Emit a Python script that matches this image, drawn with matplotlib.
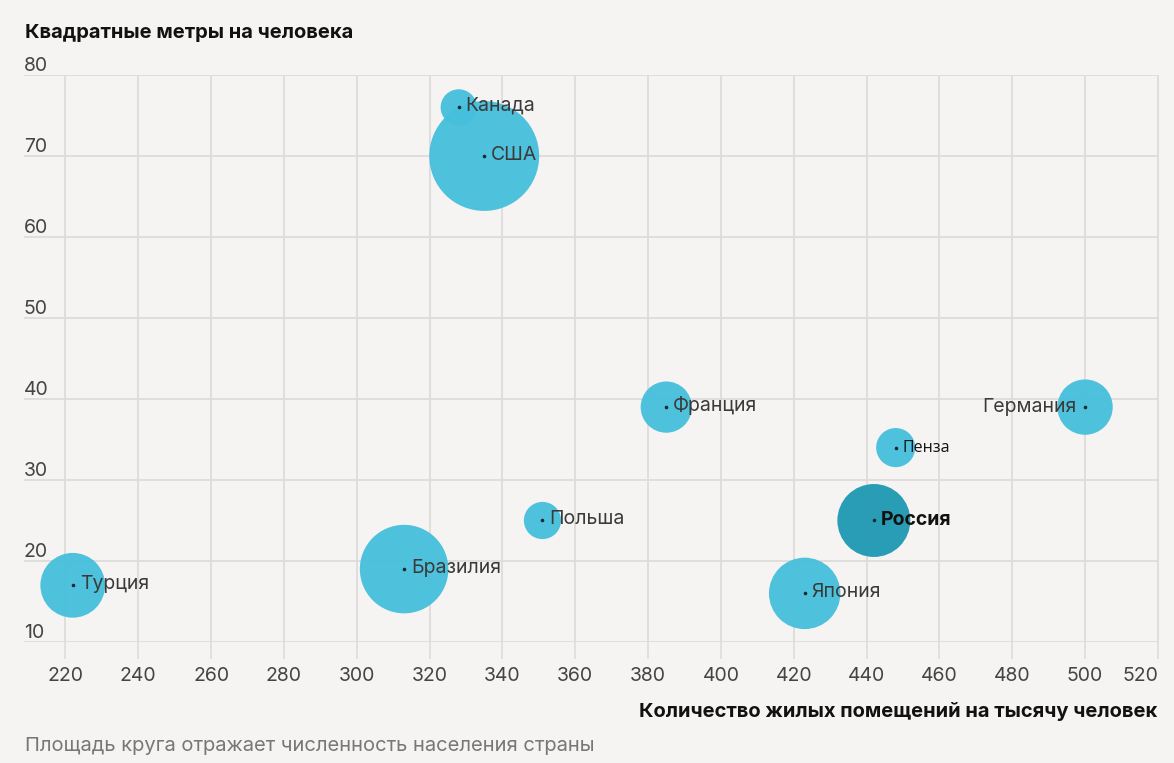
import matplotlib
matplotlib.use("Agg")
import matplotlib.pyplot as plt
import numpy as np
from matplotlib.transforms import blended_transform_factory

plt.rcParams["font.family"] = ["Inter", "DejaVu Sans"]

# values
countries = ["Турция", "Бразилия", "Канада", "США", "Польша", "Франция",
             "Япония", "Россия", "Пенза", "Германия"]
rooms_per_1000 = [222, 313, 328, 335, 351, 385, 423, 442, 448, 500]
sqm_per_person = [17, 19, 76, 70, 25, 39, 16, 25, 34, 39]
# circle area (population, mln, as drawn)
population = [115, 215, 36, 331, 38, 72, 140, 146, 42, 84]

x_ticks = list(range(220, 521, 20))
y_ticks = list(range(10, 81, 10))

BG = "#f5f4f2"
GRID = "#dddcdb"
LIGHT = "#45bfdb"
DARK = "#1f98b3"

fig = plt.figure(figsize=(11.74, 7.63), dpi=100, facecolor=BG)
ax = fig.add_axes([0.0204, 0.1586, 0.9668, 0.7431], facecolor=BG)

sizes = np.array(population) * 18.9
colors = [DARK if c == "Россия" else LIGHT for c in countries]
ax.scatter(rooms_per_1000, sqm_per_person, s=sizes, c=colors, alpha=0.95,
           linewidths=0, zorder=3)
ax.scatter(rooms_per_1000, sqm_per_person, s=2.5, c="#1a2a30", zorder=4)

for name, x, y in zip(countries, rooms_per_1000, sqm_per_person):
    if name == "Германия":
        ax.annotate(name, (x, y), xytext=(-6, 0), textcoords="offset points",
                    ha="right", va="center", fontsize=14, color="#3a3a3a", zorder=5)
    elif name == "Россия":
        ax.annotate(name, (x, y), xytext=(5, 0), textcoords="offset points",
                    ha="left", va="center", fontsize=14, fontweight="bold",
                    color="#111111", zorder=5)
    elif name == "Пенза":
        ax.annotate(name, (x, y), xytext=(5, 0), textcoords="offset points",
                    ha="left", va="center", fontsize=11.5, color="#111111",
                    family=["Open Sans", "DejaVu Sans"], zorder=5)
    else:
        ax.annotate(name, (x, y), xytext=(5, 1), textcoords="offset points",
                    ha="left", va="center", fontsize=14, color="#3a3a3a", zorder=5)

ax.set_xlim(208.6, 520.3)
ax.set_ylim(10, 80)
ax.set_xticks(x_ticks)
ax.set_xticklabels([str(t) for t in x_ticks], fontsize=14, color="#444444")
ax.get_xticklabels()[-1].set_horizontalalignment("right")
ax.set_yticks(y_ticks)
ax.set_yticklabels([])
ax.tick_params(axis="x", length=12, width=1.2, color=GRID, pad=6)
ax.tick_params(axis="y", length=0)
ax.grid(True, color=GRID, linewidth=1.3, zorder=0)
ax.set_axisbelow(True)
for sp in ax.spines.values():
    sp.set_visible(False)

# y tick labels sit above their gridlines, at the left edge
trans = blended_transform_factory(ax.transAxes, ax.transData)
for t in y_ticks:
    ax.text(0.0, t, f"{t}", transform=trans, ha="left", va="bottom",
            fontsize=14, color="#444444")

fig.text(0.021, 0.957, "Квадратные метры на человека", fontsize=14.5,
         fontweight="bold", color="#111111", ha="left", va="center")
fig.text(0.986, 0.067, "Количество жилых помещений на тысячу человек",
         fontsize=14.5, fontweight="bold", color="#111111", ha="right", va="center")
fig.text(0.021, 0.022, "Площадь круга отражает численность населения страны",
         fontsize=14.5, color="#777777", ha="left", va="center")

fig.savefig("out.png", dpi=100, facecolor=BG)
